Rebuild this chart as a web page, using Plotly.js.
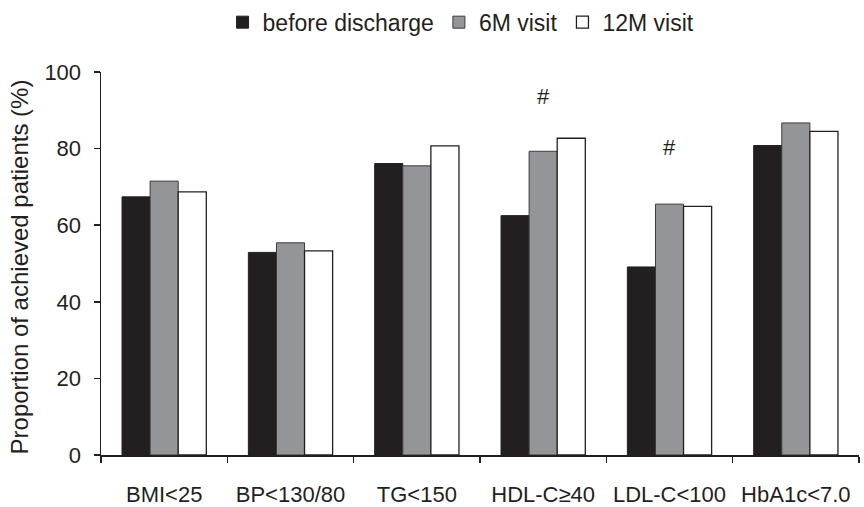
<!DOCTYPE html>
<html>
<head>
<meta charset="utf-8">
<script src="https://cdn.plot.ly/plotly-3.0.1.min.js"></script>
<style>html,body{margin:0;padding:0;background:#fff;}#chart{width:864px;height:507px;}</style>
</head>
<body>
<div id="chart"></div>
<script>
const categories = ["BMI<25", "BP<130/80", "TG<150", "HDL-C≥40", "LDL-C<100", "HbA1c<7.0"];
const beforeDischarge = [67.4, 52.9, 76.1, 62.5, 49.1, 80.8];
const visit6M = [71.5, 55.4, 75.5, 79.3, 65.5, 86.7];
const visit12M = [68.7, 53.3, 80.7, 82.7, 64.9, 84.5];
const seriesNames = ["before discharge", "6M visit", "12M visit"];
const sigCategories = ["HDL-C≥40", "LDL-C<100"];
const sigLabelY = [93.5, 80.4];
const yTicks = [0, 20, 40, 60, 80, 100];

const textColor = "#231f20";
const fontFamily = "'Liberation Sans', Arial, sans-serif";

const traces = [
  {type: "bar", name: seriesNames[0], x: categories, y: beforeDischarge,
   marker: {color: "#231f20", line: {color: "#231f20", width: 1}}},
  {type: "bar", name: seriesNames[1], x: categories, y: visit6M,
   marker: {color: "#939598", line: {color: "#3a3a3c", width: 1}}},
  {type: "bar", name: seriesNames[2], x: categories, y: visit12M,
   marker: {color: "#ffffff", line: {color: "#231f20", width: 1.3}}}
];

const annotations = sigCategories.map((c, i) => ({
  x: c, y: sigLabelY[i], xref: "x", yref: "y", text: "#", showarrow: false,
  font: {family: fontFamily, size: 22, color: textColor}
}));

const layout = {
  width: 864, height: 507,
  margin: {l: 101, r: 5, t: 72, b: 52, autoexpand: false},
  paper_bgcolor: "#fff", plot_bgcolor: "#fff",
  font: {family: fontFamily, size: 22, color: textColor},
  barmode: "group", bargap: 0.333, bargroupgap: 0,
  showlegend: true,
  legend: {orientation: "h", x: 0.475, xanchor: "center", y: 1.13, yanchor: "middle",
           font: {family: fontFamily, size: 23, color: textColor}, itemwidth: 30,
           traceorder: "normal", bgcolor: "rgba(0,0,0,0)"},
  xaxis: {type: "category", showline: true, linecolor: "#231f20", linewidth: 1.5,
          ticks: "outside", tickson: "boundaries", ticklen: 6, tickcolor: "#231f20", tickwidth: 1.5,
          showgrid: false, zeroline: false, range: [-0.5, 5.5], ticklabelstandoff: 19,
          tickfont: {family: fontFamily, size: 22, color: textColor}},
  yaxis: {range: [0, 100], tickvals: yTicks, ticktext: yTicks.map(String),
          showline: true, linecolor: "#231f20", linewidth: 1.5,
          ticks: "outside", ticklen: 6, tickcolor: "#231f20", tickwidth: 1.5,
          showgrid: false, zeroline: false, ticklabelstandoff: 8,
          tickfont: {family: fontFamily, size: 22, color: textColor}},
  annotations: annotations.concat([{
    text: "Proportion of achieved patients (%)", xref: "paper", yref: "paper",
    x: -0.108, y: 0.49, xanchor: "center", yanchor: "middle", textangle: -90, showarrow: false,
    font: {family: fontFamily, size: 24, color: textColor}
  }])
};

Plotly.newPlot("chart", traces, layout, {displayModeBar: false, staticPlot: true});
</script>
</body>
</html>
